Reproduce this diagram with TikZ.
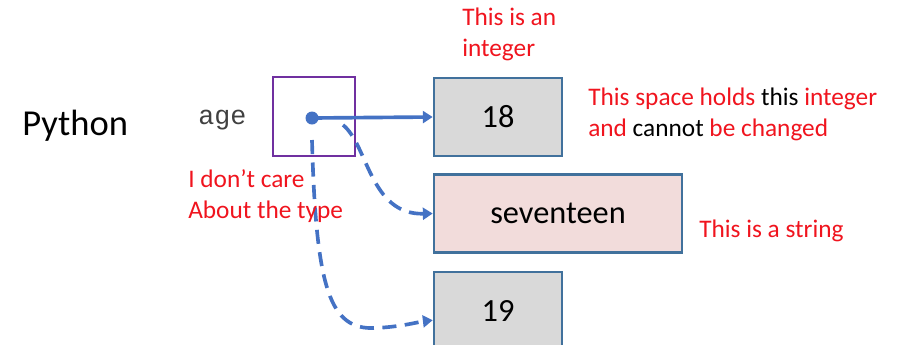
\documentclass[tikz,border=0pt]{standalone}
\usepackage{fontspec}
\setmainfont{Carlito}
\newfontfamily\agefont{Liberation Mono}
\usetikzlibrary{arrows.meta}
\definecolor{arrowblue}{RGB}{68,114,196}
\definecolor{boxedge}{RGB}{65,113,156}
\definecolor{boxgray}{RGB}{217,217,217}
\definecolor{boxpink}{RGB}{242,220,219}
\definecolor{varpurple}{RGB}{112,48,160}
\definecolor{notered}{RGB}{240,20,30}

\begin{document}
\begin{tikzpicture}[x=0.025cm, y=-0.025cm,
    valbox/.style={draw=boxedge, line width=1.8pt, minimum height=1.95cm,
                   font=\fontsize{23}{28}\selectfont},
    note/.style={text=notered, font=\fontsize{18}{21.5}\selectfont, align=left, inner sep=0pt},
    ref/.style={arrowblue, line width=2.6pt, -{Triangle[length=7pt,width=8.5pt]}},
    refdash/.style={ref, dash pattern=on 10pt off 6pt}]
        \useasboundingbox (0,0) rectangle (898,344);                             %
        \clip (0,0) rectangle (898,344);                                         %
        \node[anchor=base west, inner sep=0pt, font=\fontsize{26}{30}\selectfont]
                                      (lang)  at (22,135)  {Python};           %
        \node[anchor=base west, inner sep=0pt, font=\agefont\fontsize{19}{22}\selectfont, text=black!75]
                                      (name)  at (198,124) {age};              %
        \node[draw=varpurple, line width=1.8pt, minimum width=2.05cm, minimum height=1.975cm]
                                      (agebox) at (314,116.5) {};               %variable
        \node[valbox, fill=boxgray, minimum width=3.2cm] (v18)  at (498,117)   {18};         %int
        \node[valbox, fill=boxpink, minimum width=6.2cm] (vstr) at (558,213.5) {seventeen};  %str
        \node[valbox, fill=boxgray, minimum width=3.2cm] (v19)  at (498,311)   {19};         %int
        \fill[arrowblue]              (312,118) circle (6.5);                    %dot
        \coordinate (dot)   at (312,118);                                        %
        \coordinate (dotr)  at (343,125);                                        %
        \coordinate (dotb)  at (312,140);                                        %
        \draw[ref]     (dot) -- (v18.west);                                      %
        \draw[refdash] (dotr) .. controls (368,145) and (370,215) .. (vstr.west);%
        \draw[refdash] (dotb) .. controls (316,290) and (330,330) .. (375,328)
                              .. controls (400,327) and (418,322) .. (v19.188);  %
        % base = last line of each note
        \node[note, anchor=base west] (ntop)  at (462,56)  {This is an\\integer};               %
        \node[note, anchor=base west] (nhold) at (588,136)
            {This space holds {\color{black}this} integer\\and {\color{black}cannot} be changed}; %
        \node[note, anchor=base west] (nstr)  at (699,237) {This is a string};                   %
        \node[note, anchor=base west] (ncare) at (188,218) {I don’t care\\About the type};        %
\end{tikzpicture}
\end{document}
